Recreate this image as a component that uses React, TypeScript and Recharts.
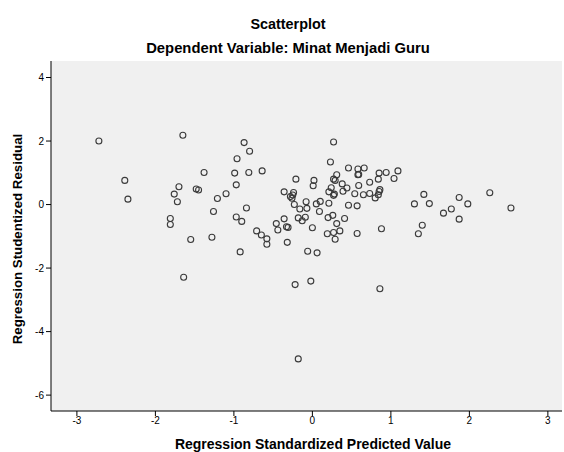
import React from 'react';
import { ScatterChart, Scatter, XAxis, YAxis, CartesianGrid } from 'recharts';

// standardized predicted value (x) / studentized residual (y)
const predicted = [
  -2.72, -1.65, -2.39, -2.35, -1.38, -1.7, -1.76, -1.72, -1.48, -1.45,
  -1.81, -1.81, -1.55, -1.64, -0.87, -0.8, -0.96, -0.99, -0.81, -0.64,
  -0.97, -1.1, -1.21, -1.26, -0.84, -0.97, -0.9, -1.28, -0.92, -0.71,
  -0.65, -0.58, -0.58, -0.46, -0.44, -0.36, -0.33, -0.31, -0.32, -0.21,
  -0.36, -0.24, -0.25, -0.28, -0.26, -0.23, -0.16, -0.08, -0.07, -0.18,
  -0.13, -0.09, 0.0, 0.02, 0.01, 0.05, 0.1, 0.09, 0.21, 0.23,
  0.21, 0.2, 0.19, -0.06, 0.06, -0.02, -0.22, -0.18, 0.86, 0.27,
  0.46, 0.58, 0.66, 0.58, 0.59, 0.31, 0.27, 0.29, 0.28, 0.27,
  0.38, 0.44, 0.39, 0.24, 0.54, 0.59, 0.73, 0.65, 0.73, 0.8,
  0.84, 0.85, 0.86, 0.84, 0.85, 0.94, 1.04, 1.09, 0.46, 0.57,
  0.26, 0.41, 0.31, 0.27, 0.35, 0.29, 0.57, 0.88, 1.3, 1.42,
  1.49, 1.4, 1.35, 1.67, 1.87, 1.98, 1.77, 1.87, 2.26, 2.53,
];
const residual = [
  2.0, 2.18, 0.76, 0.17, 1.01, 0.56, 0.33, 0.09, 0.49, 0.46,
  -0.44, -0.63, -1.1, -2.29, 1.95, 1.68, 1.44, 0.99, 1.01, 1.06,
  0.62, 0.34, 0.19, -0.22, -0.11, -0.39, -0.53, -1.03, -1.49, -0.83,
  -0.96, -1.08, -1.25, -0.6, -0.8, -0.45, -0.7, -0.72, -1.19, 0.8,
  0.4, 0.38, 0.3, 0.25, 0.2, 0.0, -0.14, 0.09, -0.12, -0.42,
  -0.51, -0.4, -0.73, 0.76, 0.59, 0.02, 0.1, -0.22, 0.4, 1.34,
  0.04, -0.41, -0.92, -1.47, -1.52, -2.41, -2.52, -4.86, -2.65, 1.97,
  1.15, 1.12, 1.15, 0.94, 0.95, 0.94, 0.8, 0.76, 0.33, 0.29,
  0.65, 0.52, 0.42, 0.53, 0.34, 0.6, 0.7, 0.31, 0.35, 0.21,
  0.31, 0.41, 0.47, 0.8, 0.99, 1.01, 0.82, 1.06, -0.02, -0.04,
  -0.34, -0.44, -0.6, -0.88, -0.83, -1.09, -0.91, -0.76, 0.02, 0.32,
  0.03, -0.65, -0.92, -0.27, 0.22, 0.02, -0.14, -0.46, 0.37, -0.11,
];
const xTicks = [-3, -2, -1, 0, 1, 2, 3];
const yTicks = [-6, -4, -2, 0, 2, 4];

const points = predicted.map((x, i) => ({ x, y: residual[i] }));

const font = '"Liberation Sans", Arial, sans-serif';
const tickStyle = { fontSize: 10, fill: '#000', fontFamily: font };

const OpenCircle = (props: any) => (
  <circle cx={props.cx} cy={props.cy} r={3} fill="none" stroke="#3a3a3a" strokeWidth={1.1} />
);

const label: React.CSSProperties = {
  position: 'absolute',
  fontFamily: font,
  fontWeight: 'bold',
  fontSize: 14,
  lineHeight: '16px',
  color: '#000',
  whiteSpace: 'nowrap',
};

export default function App() {
  return (
    <div style={{ position: 'absolute', left: 0, top: 0, width: 564, height: 452, background: '#fff' }}>
      <div style={{ ...label, fontSize: 14.4, left: 0, width: 576, top: 16, textAlign: 'center' }}>Scatterplot</div>
      <div style={{ ...label, fontSize: 14.8, left: 0, width: 576, top: 40, textAlign: 'center' }}>
        Dependent Variable: Minat Menjadi Guru
      </div>
      <ScatterChart width={564} height={452} margin={{ top: 61, right: 2, bottom: 0, left: 0 }}>
        <CartesianGrid fill="#f0f0f0" horizontal={false} vertical={false} />
        <XAxis
          type="number"
          dataKey="x"
          domain={[-3.33, 3.18]}
          ticks={xTicks}
          allowDataOverflow
          height={41}
          tick={tickStyle}
          tickSize={5}
          tickMargin={1}
          axisLine={{ stroke: '#000' }}
          tickLine={{ stroke: '#000' }}
        />
        <XAxis xAxisId="top" orientation="top" type="number" domain={[0, 1]} height={0} tick={false} tickLine={false} axisLine={{ stroke: '#8c8c8c', strokeWidth: 1.5 }} />
        <YAxis
          type="number"
          dataKey="y"
          domain={[-6.5, 4.52]}
          ticks={yTicks}
          allowDataOverflow
          width={51}
          tick={tickStyle}
          tickSize={5}
          tickMargin={2}
          axisLine={{ stroke: '#000' }}
          tickLine={{ stroke: '#000' }}
        />
        <Scatter data={points} shape={OpenCircle} isAnimationActive={false} />
      </ScatterChart>
      <div style={{ ...label, left: 0, width: 626, top: 436, textAlign: 'center' }}>
        Regression Standardized Predicted Value
      </div>
      <div
        style={{
          ...label,
          fontSize: 13.3,
          left: 18,
          top: 239,
          transform: 'translate(-50%, -50%) rotate(-90deg)',
        }}
      >
        Regression Studentized Residual
      </div>
    </div>
  );
}
